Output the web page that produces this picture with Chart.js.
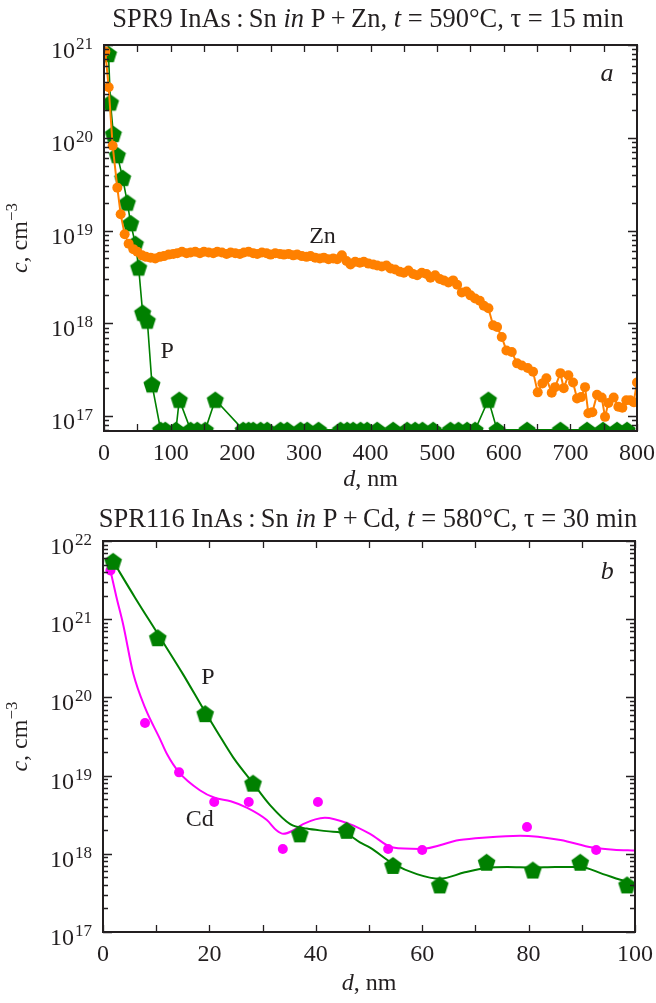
<!DOCTYPE html>
<html>
<head>
<meta charset="utf-8">
<title>SPR9 / SPR116 profiles</title>
<script src="https://cdn.jsdelivr.net/npm/chart.js@4.4.1/dist/chart.umd.min.js"></script>
<style>
  body { margin: 0; background: #fff; }
  canvas { display: block; }
</style>
</head>
<body>
<canvas id="chartA" width="656" height="497"></canvas>
<canvas id="chartB" width="656" height="506"></canvas>
<script>
// ---- (a) SPR9 InAs:Sn in P+Zn ----
const pA_d = [6.7, 9.7, 14, 20, 28, 35, 40, 47, 52, 58, 65, 72,
  85, 92, 108, 113, 130, 140, 152, 167,
  209, 217, 224, 235, 245, 265, 275, 295, 305, 322,
  355, 365, 374, 385, 395, 410, 434, 455, 467, 478,
  494, 520, 532, 545, 557, 577, 590, 635, 685, 725,
  749, 770, 785];
const pA_c = [8e20, 2.4e20, 1.1e20, 6.5e19, 3.7e19, 2e19, 1.2e19, 7.2e18, 4e18, 1.3e18, 1.07e18, 2.2e17,
  7.1e16, 7.1e16, 7.1e16, 1.5e17, 7.1e16, 7.1e16, 7.1e16, 1.5e17,
  7.1e16, 7.1e16, 7.1e16, 7.1e16, 7.1e16, 7.1e16, 7.1e16, 7.1e16, 7.1e16, 7.1e16,
  7.1e16, 7.1e16, 7.1e16, 7.1e16, 7.1e16, 7.1e16, 7.1e16, 7.1e16, 7.1e16, 7.1e16,
  7.1e16, 7.1e16, 7.1e16, 7.1e16, 7.1e16, 1.5e17, 7.1e16, 7.1e16, 7.1e16, 7.1e16,
  7.1e16, 7.1e16, 7.1e16];

const zn_d = [2, 7, 13, 20, 25, 31, 37, 44, 50, 57,
  63, 70, 77, 84, 90, 97, 104, 110, 117, 124,
  130, 137, 144, 150, 157, 164, 170, 177, 184, 190,
  197, 204, 210, 217, 224, 230, 237, 244, 250, 257,
  264, 270, 277, 284, 290, 297, 304, 310, 317, 324,
  330, 337, 344, 350, 357, 364, 370, 377, 384, 390,
  397, 404, 410, 417, 424, 430, 437, 444, 450, 457,
  464, 470, 477, 484, 490, 497, 504, 510, 517, 524,
  530, 537, 544, 550, 557, 564, 570, 577, 584, 590,
  597, 604, 612, 620, 627, 636, 644, 651, 658, 664,
  672, 677, 685, 690, 697, 704, 710, 716, 722, 727,
  733, 740, 747, 752, 757, 765, 772, 778, 784, 790,
  795, 800];
const zn_c = [8.5e20, 3.5e20, 8.2e19, 2.9e19, 1.5e19, 9.1e18, 7.2e18, 6.3e18, 5.9e18, 5.4e18,
  5.2e18, 5.1e18, 5.0e18, 5.2e18, 5.3e18, 5.5e18, 5.6e18, 5.7e18, 5.9e18, 5.7e18,
  5.8e18, 5.9e18, 5.7e18, 5.9e18, 5.8e18, 5.7e18, 5.9e18, 5.8e18, 5.6e18, 5.8e18,
  5.7e18, 5.6e18, 5.8e18, 5.9e18, 5.7e18, 5.6e18, 5.8e18, 5.7e18, 5.5e18, 5.7e18,
  5.6e18, 5.5e18, 5.6e18, 5.4e18, 5.5e18, 5.3e18, 5.2e18, 5.3e18, 5.1e18, 5.0e18,
  5.1e18, 4.9e18, 5.0e18, 4.9e18, 5.4e18, 4.7e18, 4.3e18, 4.6e18, 4.5e18, 4.6e18,
  4.4e18, 4.3e18, 4.2e18, 4.1e18, 4.2e18, 3.9e18, 3.8e18, 3.6e18, 3.5e18, 3.7e18,
  3.4e18, 3.3e18, 3.5e18, 3.4e18, 3.1e18, 3.3e18, 3.0e18, 2.9e18, 2.75e18, 2.9e18,
  2.6e18, 2.15e18, 2.2e18, 2.0e18, 1.85e18, 1.75e18, 1.55e18, 1.45e18, 9.5e17, 9.1e17,
  7.1e17, 5.1e17, 4.9e17, 3.7e17, 3.5e17, 3.3e17, 3.0e17, 1.8e17, 2.25e17, 2.55e17,
  1.78e17, 2.05e17, 2.9e17, 2.0e17, 2.75e17, 2.3e17, 1.55e17, 1.6e17, 2.05e17, 1.07e17,
  1.1e17, 1.7e17, 1.58e17, 9.8e16, 1.38e17, 1.58e17, 1.26e17, 1.23e17, 1.48e17, 1.48e17,
  1.41e17, 2.3e17];

// ---- (b) SPR116 InAs:Sn in P+Cd ----
const pB_d = [1.9, 10.3, 19.2, 28.2, 37, 45.8, 54.5, 63.3, 72.1, 80.8, 89.7, 98.5];
const pB_c = [5.5e21, 5.8e20, 6.2e19, 8e18, 1.8e18, 2.0e18, 7.1e17, 4.0e17, 7.8e17, 6.2e17, 7.8e17, 4.0e17];
const pFit_d = [1.9, 6, 10.3, 15, 19.2, 21.4, 24.5, 28.2, 31.4, 35.2, 38.3, 42, 45.8, 48.3, 50.2, 54.5, 59, 63.3, 68,
  72, 76, 80.8, 85, 89.7, 94, 98.5, 100];
const pFit_c = [5.5e21, 1.9e21, 6.5e20, 2e20, 6.5e19, 3.7e19, 1.7e19, 8e18, 4.2e18, 2.4e18, 2.1e18, 1.95e18, 1.8e18,
  1.4e18, 1.2e18, 7.5e17, 5.5e17, 4.8e17, 5.8e17, 6.6e17, 6.8e17, 6.7e17, 6.8e17, 6.8e17, 5.5e17, 4.4e17, 4.2e17];

const cd_d = [1.4, 7.9, 14.3, 20.9, 27.4, 33.8, 40.4, 53.6, 60, 79.7, 92.7];
const cd_c = [4.2e21, 4.7e19, 1.1e19, 4.6e18, 4.6e18, 1.15e18, 4.6e18, 1.15e18, 1.12e18, 2.2e18, 1.12e18];
const cdFit_d = [1.4, 2.5, 3.8, 5.7, 7.9, 10.7, 12, 14.3, 18.2, 21, 24, 27, 30.8, 32.6, 33.9, 35.8, 37.6, 41.7, 46.4,
  50.2, 54.5, 59.6, 67, 72, 78.4, 86, 92, 96, 100];
const cdFit_c = [4.2e21, 1.95e21, 8.5e20, 2e20, 7.4e19, 2.95e19, 1.9e19, 1.1e19, 6.5e18, 5.2e18, 4.7e18, 3.9e18, 2.7e18,
  2.0e18, 1.8e18, 2.0e18, 2.4e18, 2.9e18, 2.4e18, 1.8e18, 1.2e18, 1.15e18, 1.5e18, 1.62e18, 1.7e18, 1.5e18, 1.2e18,
  1.13e18, 1.1e18];

const SERIF = '"Liberation Serif", "Times New Roman", serif';
const INK = '#231f20';
const GREEN = '#008000';
const ORANGE = '#ff8000';
const MAGENTA = '#ff00ff';

const pts = (xs, ys) => xs.map((x, i) => ({x: x, y: ys[i]}));

function pentagon(r, color) {
  const s = Math.ceil(2 * r + 2);
  const c = document.createElement('canvas');
  c.width = s; c.height = s;
  const g = c.getContext('2d');
  g.fillStyle = color;
  g.beginPath();
  for (let i = 0; i < 5; i++) {
    const a = -Math.PI / 2 + i * 2 * Math.PI / 5;
    const px = s / 2 + r * Math.cos(a), py = s / 2 + r * Math.sin(a) + 0.095 * r;
    if (i) g.lineTo(px, py); else g.moveTo(px, py);
  }
  g.closePath();
  g.fill();
  return c;
}

// draw pieces of text in a row, centred on x
function rich(ctx, parts, x, y) {
  let w = 0;
  for (const p of parts) { ctx.font = p[1]; w += ctx.measureText(p[0]).width; }
  let cx = x - w / 2;
  for (const p of parts) {
    ctx.font = p[1];
    ctx.fillText(p[0], cx, y + (p[2] || 0));
    cx += ctx.measureText(p[0]).width;
  }
}

const N = '24px ' + SERIF, I = 'italic 24px ' + SERIF, S = '17px ' + SERIF;

const axes = {
  id: 'axes',
  afterDatasetsDraw(chart, args, o) {
    const ctx = chart.ctx, a = chart.chartArea;
    const x = chart.scales.x, y = chart.scales.y;
    ctx.save();
    ctx.strokeStyle = INK;
    ctx.fillStyle = INK;
    ctx.lineWidth = 1.3;
    ctx.beginPath();
    for (let v = x.min; v <= x.max + 1e-6; v += o.xMinor) {
      const px = Math.round(x.getPixelForValue(v)) + 0.5;
      ctx.moveTo(px, a.bottom); ctx.lineTo(px, a.bottom - 7);
      ctx.moveTo(px, a.top); ctx.lineTo(px, a.top + 7);
    }
    const e0 = Math.floor(Math.log10(y.min)), e1 = Math.ceil(Math.log10(y.max));
    for (let e = e0; e <= e1; e++) {
      for (let m = 1; m < 10; m++) {
        const v = m * Math.pow(10, e);
        if (v < y.min * 0.999 || v > y.max * 1.001) continue;
        const py = Math.round(y.getPixelForValue(v)) + 0.5;
        const len = m === 1 ? 9 : 5;
        ctx.moveTo(a.left, py); ctx.lineTo(a.left + len, py);
        ctx.moveTo(a.right, py); ctx.lineTo(a.right - len, py);
      }
    }
    ctx.stroke();
    ctx.lineWidth = 2;
    ctx.strokeRect(a.left, a.top, a.right - a.left, a.bottom - a.top);

    // x tick labels
    ctx.textBaseline = 'alphabetic';
    ctx.textAlign = 'center';
    ctx.font = N;
    for (let v = x.min; v <= x.max + 1e-6; v += o.xLabel) {
      ctx.fillText(String(v), x.getPixelForValue(v), a.bottom + 29);
    }
    // y tick labels 10^n
    ctx.textAlign = 'right';
    for (let e = e0; e <= e1; e++) {
      const v = Math.pow(10, e);
      if (v < y.min * 0.999 || v > y.max * 1.001) continue;
      const py = y.getPixelForValue(v);
      const rx = a.left - 11;
      ctx.font = S;
      const sw = ctx.measureText(String(e)).width;
      ctx.fillText(String(e), rx, py + 4);
      ctx.font = N;
      ctx.fillText('10', rx - sw - 1, py + 13);
    }
    ctx.textAlign = 'left';
    // axis titles
    rich(ctx, [['d', I], [', nm', N]], (a.left + a.right) / 2, a.bottom + o.xTitleDy);
    ctx.save();
    ctx.translate(27, (a.top + a.bottom) / 2);
    ctx.rotate(-Math.PI / 2);
    rich(ctx, [['c', I], [', cm', N], ['\u22123', S, -10]], 0, 0);
    ctx.restore();
    // chart title
    rich(ctx, o.title, o.titleX, o.titleY);
    // labels in the plot
    for (const t of o.notes) {
      rich(ctx, [[t[0], t[1]]], x.getPixelForValue(t[2]), y.getPixelForValue(t[3]));
    }
    ctx.restore();
  }
};

function makeChart(id, datasets, xr, yr, pad, opts) {
  return new Chart(document.getElementById(id), {
    type: 'scatter',
    data: { datasets: datasets },
    options: {
      responsive: false,
      animation: false,
      layout: { padding: pad },
      plugins: { legend: { display: false }, tooltip: { enabled: false }, axes: opts },
      scales: {
        x: { type: 'linear', display: false, min: xr[0], max: xr[1] },
        y: { type: 'logarithmic', display: false, min: yr[0], max: yr[1] }
      }
    },
    plugins: [axes]
  });
}

const T = '26.5px ' + SERIF, TI = 'italic 26.5px ' + SERIF;

makeChart('chartA', [
  { data: pts(zn_d, zn_c), showLine: true, borderColor: ORANGE, borderWidth: 2,
    pointRadius: 5, pointBackgroundColor: ORANGE, pointBorderWidth: 0, order: 1 },
  { data: pts(pA_d, pA_c), showLine: true, borderColor: GREEN, borderWidth: 1.6,
    pointStyle: pentagon(9, GREEN), pointRadius: 9, order: 2 }
], [0, 800], [6.9e16, 1e21], { left: 104, right: 19, top: 45, bottom: 66 }, {
  xMinor: 50, xLabel: 100, xTitleDy: 55, titleX: 368, titleY: 27,
  title: [['SPR9 InAs\u2009:\u2009Sn ', T], ['in', TI], [' P\u2009+\u2009Zn, ', T], ['t', TI], [' = 590\u00b0C, \u03c4 = 15 min', T]],
  notes: [['Zn', N, 328, 7.4e18], ['P', N, 95, 4.2e17], ['a', 'italic 26px ' + SERIF, 755, 4.1e20]]
});

makeChart('chartB', [
  { data: pts(pB_d, pB_c), showLine: false, pointStyle: pentagon(9.3, GREEN), pointRadius: 9, order: 1 },
  { data: pts(pFit_d, pFit_c), showLine: true, borderColor: GREEN, borderWidth: 2, pointRadius: 0,
    cubicInterpolationMode: 'monotone', order: 2 },
  { data: pts(cd_d, cd_c), showLine: false, pointRadius: 5, pointBackgroundColor: MAGENTA, pointBorderWidth: 0, order: 3 },
  { data: pts(cdFit_d, cdFit_c), showLine: true, borderColor: MAGENTA, borderWidth: 2, pointRadius: 0,
    cubicInterpolationMode: 'monotone', order: 4 }
], [0, 100], [1e17, 1e22], { left: 103, right: 21, top: 44, bottom: 71 }, {
  xMinor: 10, xLabel: 20, xTitleDy: 58, titleX: 368, titleY: 30,
  title: [['SPR116 InAs\u2009:\u2009Sn ', T], ['in', TI], [' P\u2009+\u2009Cd, ', T], ['t', TI], [' = 580\u00b0C, \u03c4 = 30 min', T]],
  notes: [['P', N, 19.7, 1.5e20], ['Cd', N, 18.2, 2.3e18], ['b', 'italic 26px ' + SERIF, 94.8, 3.3e21]]
});
</script>
</body>
</html>
